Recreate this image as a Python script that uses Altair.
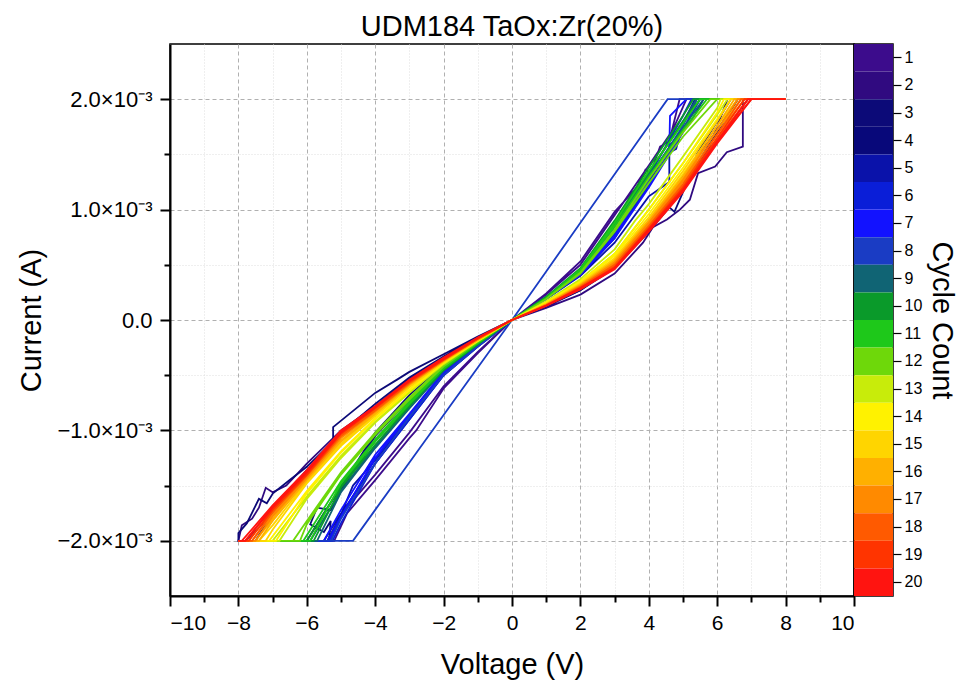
import altair as alt
import pandas as pd

# ---------------- data (currents in mA = x10^-3 A) ----------------
CYCLES = list(range(1, 21))
COLORS = ["#3c0c8c", "#300a80", "#0c0a78", "#08087a", "#0a12aa", "#0a1ed8",
          "#1212ff", "#1a3cc4", "#106474", "#0a9a2a", "#1ec81a", "#6ed80a",
          "#c8ec0a", "#fff200", "#ffd500", "#ffb000", "#ff8a00", "#ff5a00",
          "#ff3400", "#ff1410"]
V_MAX = 8.0
I_COMP = 2.0

X_TICKS = list(range(-10, 11))
Y_TICKS = [-2.0, -1.5, -1.0, -0.5, 0.0, 0.5, 1.0, 1.5, 2.0]

POS_OUT = [
    [[1, 0.24], [2, 0.53], [3, 0.98], [3.65, 1.2], [3.9, 1.36], [4.05, 1.33], [4.33, 1.57], [4.6, 1.62], [4.9, 2.0]],
    [[1, 0.11], [2, 0.23], [3, 0.42], [3.83, 0.70], [4.12, 0.84], [4.53, 0.91], [4.91, 1.0], [5.2, 1.09], [5.44, 1.33], [5.94, 1.39], [6.28, 1.52], [6.75, 1.57], [6.75, 2.0]],
    [[1, 0.13], [2, 0.27], [3, 0.47], [4, 0.80], [4.6, 1.02], [4.75, 0.98], [5.2, 1.3], [5.6, 1.62], [5.75, 1.55], [6.3, 2.0]],
    [[1, 0.14], [2, 0.30], [3, 0.52], [4, 0.88], [5, 1.28], [5.3, 1.36], [5.4, 1.5], [6, 1.8], [6.4, 2.0]],
    [[1, 0.19], [2, 0.41], [3, 0.74], [4, 1.25], [4.5, 1.5], [4.8, 1.55], [5.0, 1.78], [5.35, 2.0]],
    [[1, 0.20], [2, 0.43], [3, 0.78], [4, 1.30], [5, 1.85], [5.25, 2.0]],
    [[1, 0.19], [2, 0.42], [3, 0.76], [4, 1.27], [4.6, 1.55], [4.62, 1.85], [5.1, 2.0]],
    [[1, 0.44], [2, 0.88], [3, 1.32], [4, 1.76], [4.55, 2.0]],
    [[1, 0.20], [2, 0.45], [3, 0.86], [4, 1.33], [5, 1.80], [5.4, 2.0]],
    [[1, 0.21], [2, 0.47], [3, 0.90], [4, 1.38], [5, 1.85], [5.3, 2.0]],
    [[1, 0.20], [2, 0.46], [3, 0.88], [4, 1.35], [5, 1.78], [5.5, 2.0]],
    [[1, 0.19], [2, 0.43], [3, 0.82], [4, 1.28], [5, 1.70], [5.8, 2.0]],
    [[1, 0.17], [2, 0.37], [3, 0.64], [3.6, 0.9], [4, 1.05], [5, 1.48], [6, 1.92], [6.1, 2.0]],
    [[1, 0.16], [2, 0.35], [3, 0.60], [4, 1.00], [5, 1.42], [6, 1.88], [6.2, 2.0]],
    [[1, 0.15], [2, 0.33], [3, 0.56], [4, 0.93], [5, 1.35], [6, 1.80], [6.4, 2.0]],
    [[1, 0.14], [2, 0.32], [3, 0.54], [4, 0.90], [5, 1.30], [6, 1.76], [6.5, 2.0]],
    [[1, 0.14], [2, 0.31], [3, 0.52], [4, 0.88], [5, 1.27], [6, 1.72], [6.6, 2.0]],
    [[1, 0.13], [2, 0.30], [3, 0.50], [4, 0.85], [5, 1.23], [6, 1.68], [6.7, 2.0]],
    [[1, 0.13], [2, 0.29], [3, 0.48], [4, 0.83], [5, 1.20], [6, 1.65], [6.8, 2.0]],
    [[1, 0.13], [2, 0.29], [3, 0.47], [4, 0.82], [5, 1.18], [6, 1.62], [6.9, 2.0]],
]

POS_BACK = [
    [[5.1, 2.0], [4.7, 1.72], [4, 1.40], [3, 0.95], [2, 0.50], [1, 0.23]],
    [[6.9, 2.0], [6.3, 1.75], [5.5, 1.45], [5, 1.20], [4, 0.82], [3, 0.50], [2, 0.27], [1, 0.12]],
    [[6.6, 2.0], [6.0, 1.70], [5, 1.22], [4, 0.84], [3, 0.50], [2, 0.28], [1, 0.13]],
    [[6.6, 2.0], [6, 1.72], [5, 1.30], [4, 0.90], [3, 0.53], [2, 0.30], [1, 0.14]],
    [[5.6, 2.0], [5.2, 1.78], [4.6, 1.58], [4.6, 1.25], [4, 1.12], [3, 0.70], [2, 0.40], [1, 0.19]],
    [[5.5, 2.0], [5, 1.72], [4, 1.22], [3, 0.75], [2, 0.42], [1, 0.20]],
    [[5.4, 2.0], [5, 1.70], [4, 1.20], [3, 0.74], [2, 0.41], [1, 0.19]],
    [[5.4, 2.0], [5, 1.76], [4, 1.28], [3, 0.80], [2, 0.44], [1, 0.21]],
    [[5.6, 2.0], [5, 1.74], [4, 1.30], [3, 0.84], [2, 0.44], [1, 0.20]],
    [[5.5, 2.0], [5, 1.80], [4, 1.34], [3, 0.88], [2, 0.46], [1, 0.21]],
    [[5.7, 2.0], [5, 1.72], [4, 1.30], [3, 0.85], [2, 0.45], [1, 0.20]],
    [[6.0, 2.0], [5, 1.66], [4, 1.24], [3, 0.80], [2, 0.42], [1, 0.19]],
    [[6.3, 2.0], [6, 1.86], [5, 1.42], [4, 1.00], [3, 0.60], [2, 0.35], [1, 0.16]],
    [[6.4, 2.0], [6, 1.82], [5, 1.38], [4, 0.96], [3, 0.58], [2, 0.34], [1, 0.16]],
    [[6.6, 2.0], [6, 1.76], [5, 1.32], [4, 0.90], [3, 0.55], [2, 0.32], [1, 0.15]],
    [[6.7, 2.0], [6, 1.72], [5, 1.28], [4, 0.88], [3, 0.53], [2, 0.31], [1, 0.14]],
    [[6.8, 2.0], [6, 1.68], [5, 1.25], [4, 0.86], [3, 0.51], [2, 0.30], [1, 0.14]],
    [[6.9, 2.0], [6, 1.64], [5, 1.21], [4, 0.84], [3, 0.49], [2, 0.29], [1, 0.13]],
    [[7.0, 2.0], [6, 1.62], [5, 1.18], [4, 0.82], [3, 0.47], [2, 0.28], [1, 0.13]],
    [[7.0, 2.0], [6, 1.60], [5, 1.16], [4, 0.80], [3, 0.46], [2, 0.28], [1, 0.13]],
]

NEG_OUT = [
    [[-1, -0.30], [-2, -0.62], [-2.8, -1.0], [-3, -1.07], [-4, -1.45], [-4.82, -1.75], [-5.2, -2.0]],
    [[-1, -0.16], [-2, -0.34], [-3, -0.53], [-4, -0.78], [-5, -1.00], [-6, -1.30], [-6.6, -1.50], [-7.0, -1.56], [-7.2, -1.52], [-7.4, -1.70], [-7.6, -1.80], [-7.9, -1.86], [-8, -2.0]],
    [[-1, -0.15], [-2, -0.31], [-3, -0.47], [-3.36, -0.54], [-4, -0.66], [-5.23, -0.97], [-5.23, -1.10], [-6, -1.33], [-6.5, -1.45], [-6.99, -1.57], [-7.17, -1.66], [-7.4, -1.62], [-7.75, -1.84], [-8, -1.93], [-8, -2.0]],
    [[-1, -0.20], [-2, -0.42], [-3, -0.72], [-4, -1.05], [-5.0, -1.55], [-5.3, -1.72], [-5.7, -1.70], [-5.9, -1.85], [-5.5, -1.92], [-5.3, -1.82], [-5.35, -2.0]],
    [[-1, -0.23], [-2, -0.48], [-3, -0.88], [-4, -1.27], [-4.65, -1.50], [-5, -1.76], [-5.3, -2.0]],
    [[-1, -0.24], [-2, -0.50], [-3, -0.90], [-4, -1.30], [-5, -1.84], [-5.25, -2.0]],
    [[-1, -0.23], [-2, -0.49], [-3, -0.86], [-4, -1.25], [-5, -1.78], [-5.35, -2.0]],
    [[-1, -0.24], [-2, -0.50], [-3, -0.88], [-4, -1.30], [-5, -1.80], [-5.3, -2.0]],
    [[-1, -0.22], [-2, -0.46], [-3, -0.80], [-4, -1.16], [-5, -1.56], [-5.7, -2.0]],
    [[-1, -0.22], [-2, -0.45], [-3, -0.78], [-4, -1.13], [-5, -1.52], [-5.8, -2.0]],
    [[-1, -0.21], [-2, -0.44], [-3, -0.76], [-4, -1.10], [-5, -1.48], [-5.9, -2.0]],
    [[-1, -0.20], [-2, -0.42], [-3, -0.72], [-4, -1.04], [-5, -1.40], [-6, -1.85], [-6.2, -2.0]],
    [[-1, -0.19], [-2, -0.40], [-3, -0.66], [-4, -0.93], [-5, -1.25], [-6, -1.62], [-6.8, -2.0]],
    [[-1, -0.19], [-2, -0.39], [-3, -0.64], [-4, -0.90], [-5, -1.20], [-6, -1.57], [-6.9, -2.0]],
    [[-1, -0.18], [-2, -0.38], [-3, -0.61], [-4, -0.87], [-5, -1.14], [-6, -1.48], [-7, -1.90], [-7.2, -2.0]],
    [[-1, -0.18], [-2, -0.37], [-3, -0.59], [-4, -0.85], [-5, -1.10], [-6, -1.45], [-7, -1.82], [-7.4, -2.0]],
    [[-1, -0.17], [-2, -0.37], [-3, -0.58], [-4, -0.83], [-5, -1.07], [-6, -1.43], [-7, -1.78], [-7.5, -2.0]],
    [[-1, -0.17], [-2, -0.36], [-3, -0.57], [-4, -0.82], [-5, -1.05], [-6, -1.41], [-7, -1.74], [-7.6, -2.0]],
    [[-1, -0.17], [-2, -0.36], [-3, -0.56], [-4, -0.80], [-5, -1.03], [-6, -1.40], [-7, -1.72], [-7.7, -2.0]],
    [[-1, -0.16], [-2, -0.35], [-3, -0.55], [-4, -0.79], [-5, -1.02], [-6, -1.38], [-7, -1.70], [-7.8, -2.0]],
]

NEG_BACK = [
    [[-5.4, -2.0], [-5, -1.76], [-4, -1.40], [-3, -1.02], [-2, -0.60], [-1, -0.29]],
    [[-7.8, -2.0], [-7.3, -1.85], [-7, -1.70], [-6, -1.36], [-5, -1.03], [-4, -0.80], [-3, -0.55], [-2, -0.35], [-1, -0.16]],
    [[-7.5, -2.0], [-7, -1.75], [-6, -1.38], [-5, -1.02], [-4, -0.76], [-3, -0.52], [-2, -0.33], [-1, -0.16]],
    [[-6.0, -2.0], [-5.5, -1.75], [-5, -1.52], [-4, -1.02], [-3, -0.68], [-2, -0.40], [-1, -0.19]],
    [[-5.5, -2.0], [-5.1, -1.80], [-4, -1.30], [-3, -0.90], [-2, -0.50], [-1, -0.24]],
    [[-5.4, -2.0], [-5, -1.78], [-4, -1.26], [-3, -0.86], [-2, -0.47], [-1, -0.23]],
    [[-5.5, -2.0], [-5, -1.72], [-4, -1.22], [-3, -0.85], [-2, -0.47], [-1, -0.22]],
    [[-4.65, -2.0], [-4, -1.72], [-3, -1.29], [-2, -0.86], [-1, -0.43]],
    [[-5.9, -2.0], [-5, -1.55], [-4, -1.14], [-3, -0.78], [-2, -0.45], [-1, -0.22]],
    [[-6.0, -2.0], [-5, -1.50], [-4, -1.10], [-3, -0.76], [-2, -0.44], [-1, -0.21]],
    [[-6.1, -2.0], [-5, -1.46], [-4, -1.08], [-3, -0.74], [-2, -0.43], [-1, -0.21]],
    [[-6.4, -2.0], [-6, -1.82], [-5, -1.38], [-4, -1.02], [-3, -0.70], [-2, -0.41], [-1, -0.20]],
    [[-7.0, -2.0], [-6, -1.60], [-5, -1.23], [-4, -0.92], [-3, -0.65], [-2, -0.39], [-1, -0.19]],
    [[-7.1, -2.0], [-6, -1.55], [-5, -1.19], [-4, -0.89], [-3, -0.63], [-2, -0.38], [-1, -0.18]],
    [[-7.4, -2.0], [-7, -1.86], [-6, -1.46], [-5, -1.12], [-4, -0.86], [-3, -0.60], [-2, -0.37], [-1, -0.18]],
    [[-7.5, -2.0], [-7, -1.80], [-6, -1.43], [-5, -1.09], [-4, -0.84], [-3, -0.58], [-2, -0.36], [-1, -0.17]],
    [[-7.6, -2.0], [-7, -1.76], [-6, -1.41], [-5, -1.06], [-4, -0.82], [-3, -0.57], [-2, -0.36], [-1, -0.17]],
    [[-7.7, -2.0], [-7, -1.72], [-6, -1.39], [-5, -1.04], [-4, -0.81], [-3, -0.56], [-2, -0.35], [-1, -0.17]],
    [[-7.8, -2.0], [-7, -1.70], [-6, -1.38], [-5, -1.02], [-4, -0.79], [-3, -0.55], [-2, -0.35], [-1, -0.16]],
    [[-7.9, -2.0], [-7, -1.68], [-6, -1.36], [-5, -1.00], [-4, -0.78], [-3, -0.54], [-2, -0.34], [-1, -0.16]],
]

# ---------------- build long table ----------------
rows = []
for i, cyc in enumerate(CYCLES):
    path = ([[0, 0]] + POS_OUT[i] + [[V_MAX, I_COMP]] + POS_BACK[i] + [[0, 0]]
            + NEG_OUT[i] + [[-V_MAX, -I_COMP]] + NEG_BACK[i] + [[0, 0]])
    for k, (v, cur) in enumerate(path):
        rows.append({"Cycle": cyc, "k": k, "V": v, "I": cur})
df = pd.DataFrame(rows)

FONT = "Liberation Sans"
W, H = 684, 552

x_axis = alt.Axis(
    values=X_TICKS, orient="bottom",
    labelExpr="datum.value % 2 === 0 ? datum.label : ''",
    grid=True,
    gridDash={"condition": {"test": "datum.value % 2 === 0", "value": [4, 3]}, "value": [1, 2]},
    gridColor={"condition": {"test": "datum.value % 2 === 0", "value": "#b0b0b0"}, "value": "#dedede"},
    gridWidth=1,
    tickSize={"condition": {"test": "datum.value % 2 === 0", "value": 10}, "value": 6},
    tickWidth=2, tickColor="black",
    domainColor="black", domainWidth=2,
    labelFontSize=21, labelPadding=6, labelColor="black",
    title="Voltage (V)", titleFontSize=29, titleFontWeight="normal",
    titlePadding=17, titleColor="black",
)
y_axis = alt.Axis(
    values=Y_TICKS, orient="left",
    labelExpr="datum.value % 1 !== 0 ? '' : (datum.value === 0 ? '0.0' : format(datum.value, '.1f') + '×10⁻³')",
    grid=True,
    gridDash={"condition": {"test": "datum.value % 1 === 0", "value": [4, 3]}, "value": [1, 2]},
    gridColor={"condition": {"test": "datum.value % 1 === 0", "value": "#b0b0b0"}, "value": "#dedede"},
    gridWidth=1,
    tickSize={"condition": {"test": "datum.value % 1 === 0", "value": 10}, "value": 6},
    tickWidth=2, tickColor="black",
    domainColor="black", domainWidth=2,
    labelFontSize=22, labelPadding=8, labelColor="black",
    title="Current (A)", titleFontSize=29, titleFontWeight="normal",
    titlePadding=10, titleColor="black",
)

main = alt.Chart(df).mark_line(strokeWidth=1.8, clip=True).encode(
    x=alt.X("V:Q", scale=alt.Scale(domain=[-10, 10], nice=False, zero=False), axis=x_axis),
    y=alt.Y("I:Q", scale=alt.Scale(domain=[-2.5, 2.5], nice=False, zero=False), axis=y_axis),
    color=alt.Color("Cycle:O", scale=alt.Scale(domain=CYCLES, range=COLORS), legend=None),
    order=alt.Order("k:Q"),
).properties(
    width=W, height=H,
    title=alt.TitleParams("UDM184 TaOx:Zr(20%)", fontSize=29, fontWeight="normal",
                          font=FONT, color="black", anchor="middle", offset=2),
)

bar_df = pd.DataFrame({"Cycle": CYCLES})
colorbar = alt.Chart(bar_df).mark_rect().encode(
    y=alt.Y("Cycle:O", sort=CYCLES,
            scale=alt.Scale(paddingInner=0, paddingOuter=0),
            axis=alt.Axis(orient="right", title="Cycle Count", titleFontSize=29,
                          titleFontWeight="normal", titleColor="black", titlePadding=5,
                          labelFontSize=16, labelColor="black", labelPadding=3,
                          tickSize=8, tickWidth=1.2, tickColor="black",
                          domain=False, grid=False)),
    color=alt.Color("Cycle:O", scale=alt.Scale(domain=CYCLES, range=COLORS), legend=None),
).properties(width=39, height=H)

chart = alt.hconcat(main, colorbar, spacing=0, bounds="flush").properties(
    padding={"left": 17, "top": 12, "right": 2, "bottom": 2},
).configure(font=FONT).configure_view(
    stroke="black", strokeWidth=1.5
).configure_axis(labelFont=FONT, titleFont=FONT)

chart.save("out.html", embed_options={"renderer": "svg", "actions": False})
